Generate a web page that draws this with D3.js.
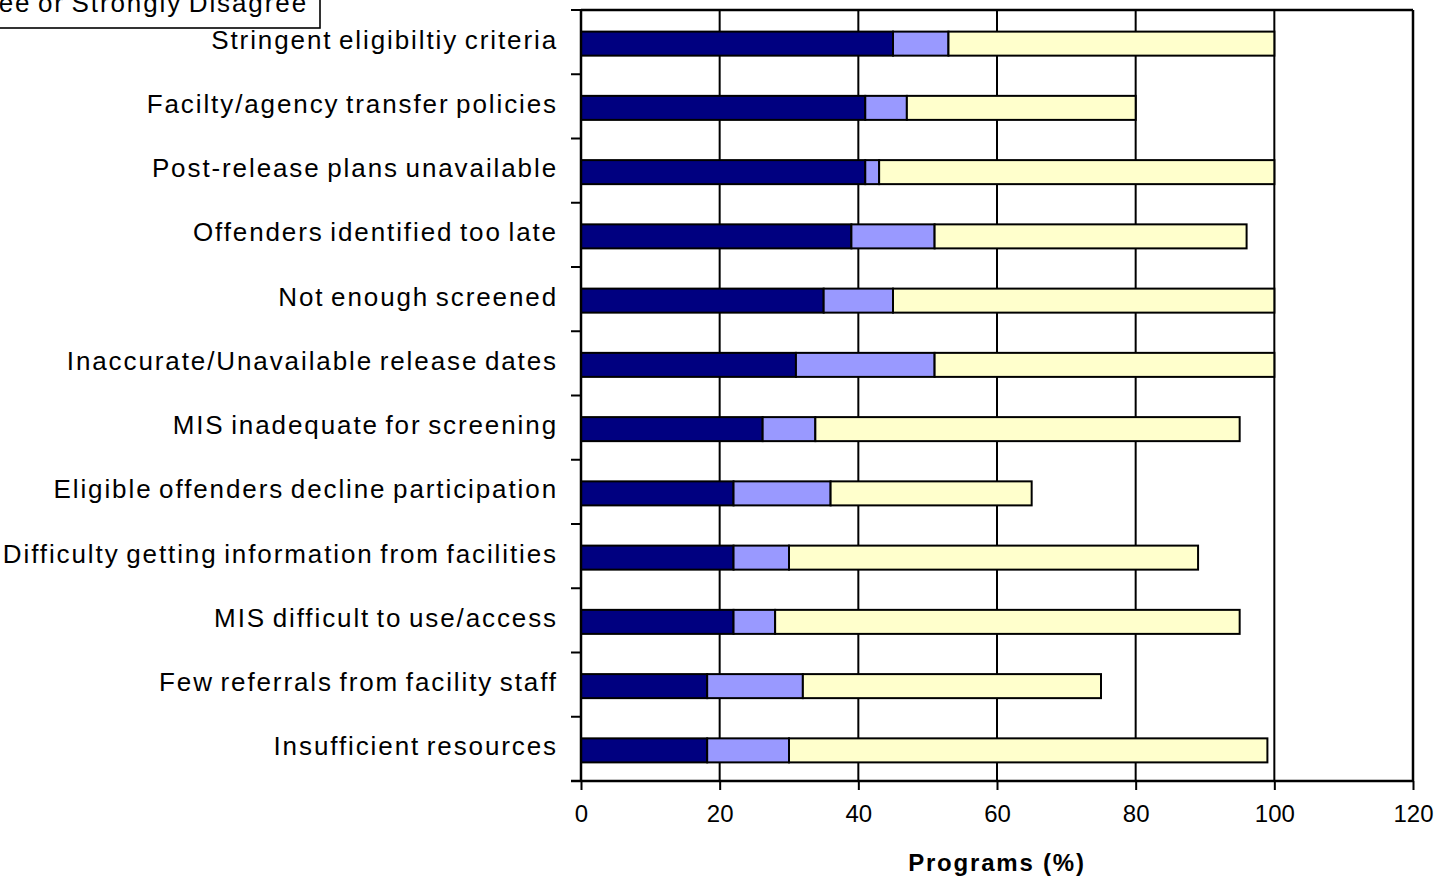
<!DOCTYPE html>
<html>
<head>
<meta charset="utf-8">
<script src="https://cdn.jsdelivr.net/npm/d3@7"></script>
<style>
  html, body { margin: 0; padding: 0; background: #fff; overflow: hidden; }
  svg { display: block; }
  text { font-family: "Liberation Sans", Arial, sans-serif; fill: #000; }
</style>
</head>
<body>
<svg id="chart" width="1437" height="877"></svg>
<script>
// ---- data ----
const categories = [
  "Stringent eligibiltiy criteria",
  "Facilty/agency transfer policies",
  "Post-release plans unavailable",
  "Offenders identified too late",
  "Not enough screened",
  "Inaccurate/Unavailable release dates",
  "MIS inadequate for screening",
  "Eligible offenders decline participation",
  "Difficulty getting information from facilities",
  "MIS difficult to use/access",
  "Few referrals from facility staff",
  "Insufficient resources"
];
const seriesNames = ["Agree or Strongly Agree", "Neither Agree nor Disagree", "Disagree or Strongly Disagree"];
const agreeValues    = [45, 41, 41, 39, 35, 31, 26.2, 22, 22, 22, 18.2, 18.2];
const neutralValues  = [8, 6, 2, 12, 10, 20, 7.6, 14, 8, 6, 13.8, 11.8];
const disagreeValues = [47, 33, 57, 45, 55, 49, 61.2, 29, 59, 67, 43, 69];
const xTicks = [0, 20, 40, 60, 80, 100, 120];
const xTitle = "Programs (%)";
const colors = ["#000080", "#9999FF", "#FFFFCC"];

// ---- layout ----
const svg = d3.select("#chart");
const pLeft = 581, pRight = 1413, pTop = 10, pBottom = 781;

const x = d3.scaleLinear().domain([0, 120]).range([pLeft, pRight]);
const y = d3.scaleBand().domain(categories).range([pTop, pBottom]).paddingInner(0.626).paddingOuter(0.313);

const stackData = categories.map((c, i) => ({ cat: c, s0: agreeValues[i], s1: neutralValues[i], s2: disagreeValues[i] }));
const stacked = d3.stack().keys(["s0", "s1", "s2"])(stackData);

// gridlines (vertical)
svg.append("g").selectAll("line").data(xTicks.filter(t => t > 0)).join("line")
  .attr("x1", d => x(d)).attr("x2", d => x(d))
  .attr("y1", pTop).attr("y2", pBottom)
  .attr("stroke", "#000").attr("stroke-width", d => d === 120 ? 2.5 : 2);
// top border
svg.append("line").attr("x1", pLeft).attr("x2", pRight).attr("y1", pTop).attr("y2", pTop)
  .attr("stroke", "#000").attr("stroke-width", 2.5);

// bars
const off = 1.5;
svg.append("g").selectAll("g").data(stacked).join("g")
  .attr("fill", (d, i) => colors[i])
  .selectAll("rect").data(d => d).join("rect")
  .attr("x", d => x(d[0]))
  .attr("width", d => x(d[1]) - x(d[0]))
  .attr("y", d => y(d.data.cat) + off)
  .attr("height", y.bandwidth())
  .attr("stroke", "#000").attr("stroke-width", 2);

// y axis (ticks at band boundaries, no labels)
const step = y.step();
const yAxisG = svg.append("g");
yAxisG.append("line").attr("x1", pLeft).attr("x2", pLeft).attr("y1", pTop).attr("y2", pBottom)
  .attr("stroke", "#000").attr("stroke-width", 2.5);
yAxisG.selectAll("line.tk").data(d3.range(categories.length + 1)).join("line").attr("class", "tk")
  .attr("x1", pLeft - 10).attr("x2", pLeft)
  .attr("y1", i => pTop + i * step).attr("y2", i => pTop + i * step)
  .attr("stroke", "#000").attr("stroke-width", 2);

// category labels
svg.append("g").selectAll("text").data(categories).join("text")
  .attr("x", 558).attr("y", d => y(d) + off + y.bandwidth() / 2 + 5)
  .attr("text-anchor", "end")
  .style("font-size", "26px").style("letter-spacing", "1.9px").style("word-spacing", "-2.5px")
  .text(d => d);

// x axis
const xAxis = d3.axisBottom(x).tickValues(xTicks).tickSize(9).tickPadding(15).tickFormat(d3.format("d"));
const xg = svg.append("g").attr("transform", `translate(0,${pBottom})`).call(xAxis);
xg.select(".domain").attr("stroke", "#000").attr("stroke-width", 2.5).attr("d", `M${pLeft - 10},0H${pRight}`);
xg.selectAll(".tick line").attr("stroke", "#000").attr("stroke-width", 2);
xg.selectAll(".tick text").style("font-size", "24px").style("font-family", "Liberation Sans, Arial, sans-serif").attr("fill", "#000");

// axis title
svg.append("text").attr("x", (pLeft + pRight) / 2).attr("y", 871).attr("text-anchor", "middle")
  .style("font-size", "24px").style("font-weight", "bold").style("letter-spacing", "1.8px")
  .text(xTitle);

// legend (mostly off-canvas, as in the reference)
const lg = svg.append("g");
lg.append("rect").attr("x", -180).attr("y", -90).attr("width", 500).attr("height", 118)
  .attr("fill", "#fff").attr("stroke", "#000").attr("stroke-width", 1.6);
const legItems = lg.selectAll("g.li").data(seriesNames).join("g").attr("class", "li");
legItems.append("text")
  .attr("x", 308).attr("y", (d, i) => 12 - (seriesNames.length - 1 - i) * 32)
  .attr("text-anchor", "end")
  .style("font-size", "26px").style("letter-spacing", "1.9px").style("word-spacing", "-2.5px")
  .text(d => d);
legItems.each(function(d, i) {
  const t = d3.select(this).select("text").node().getBBox();
  d3.select(this).insert("rect", "text")
    .attr("x", t.x - 24).attr("y", t.y + t.height / 2 - 7).attr("width", 14).attr("height", 14)
    .attr("fill", colors[i]).attr("stroke", "#000").attr("stroke-width", 1);
});
</script>
</body>
</html>
